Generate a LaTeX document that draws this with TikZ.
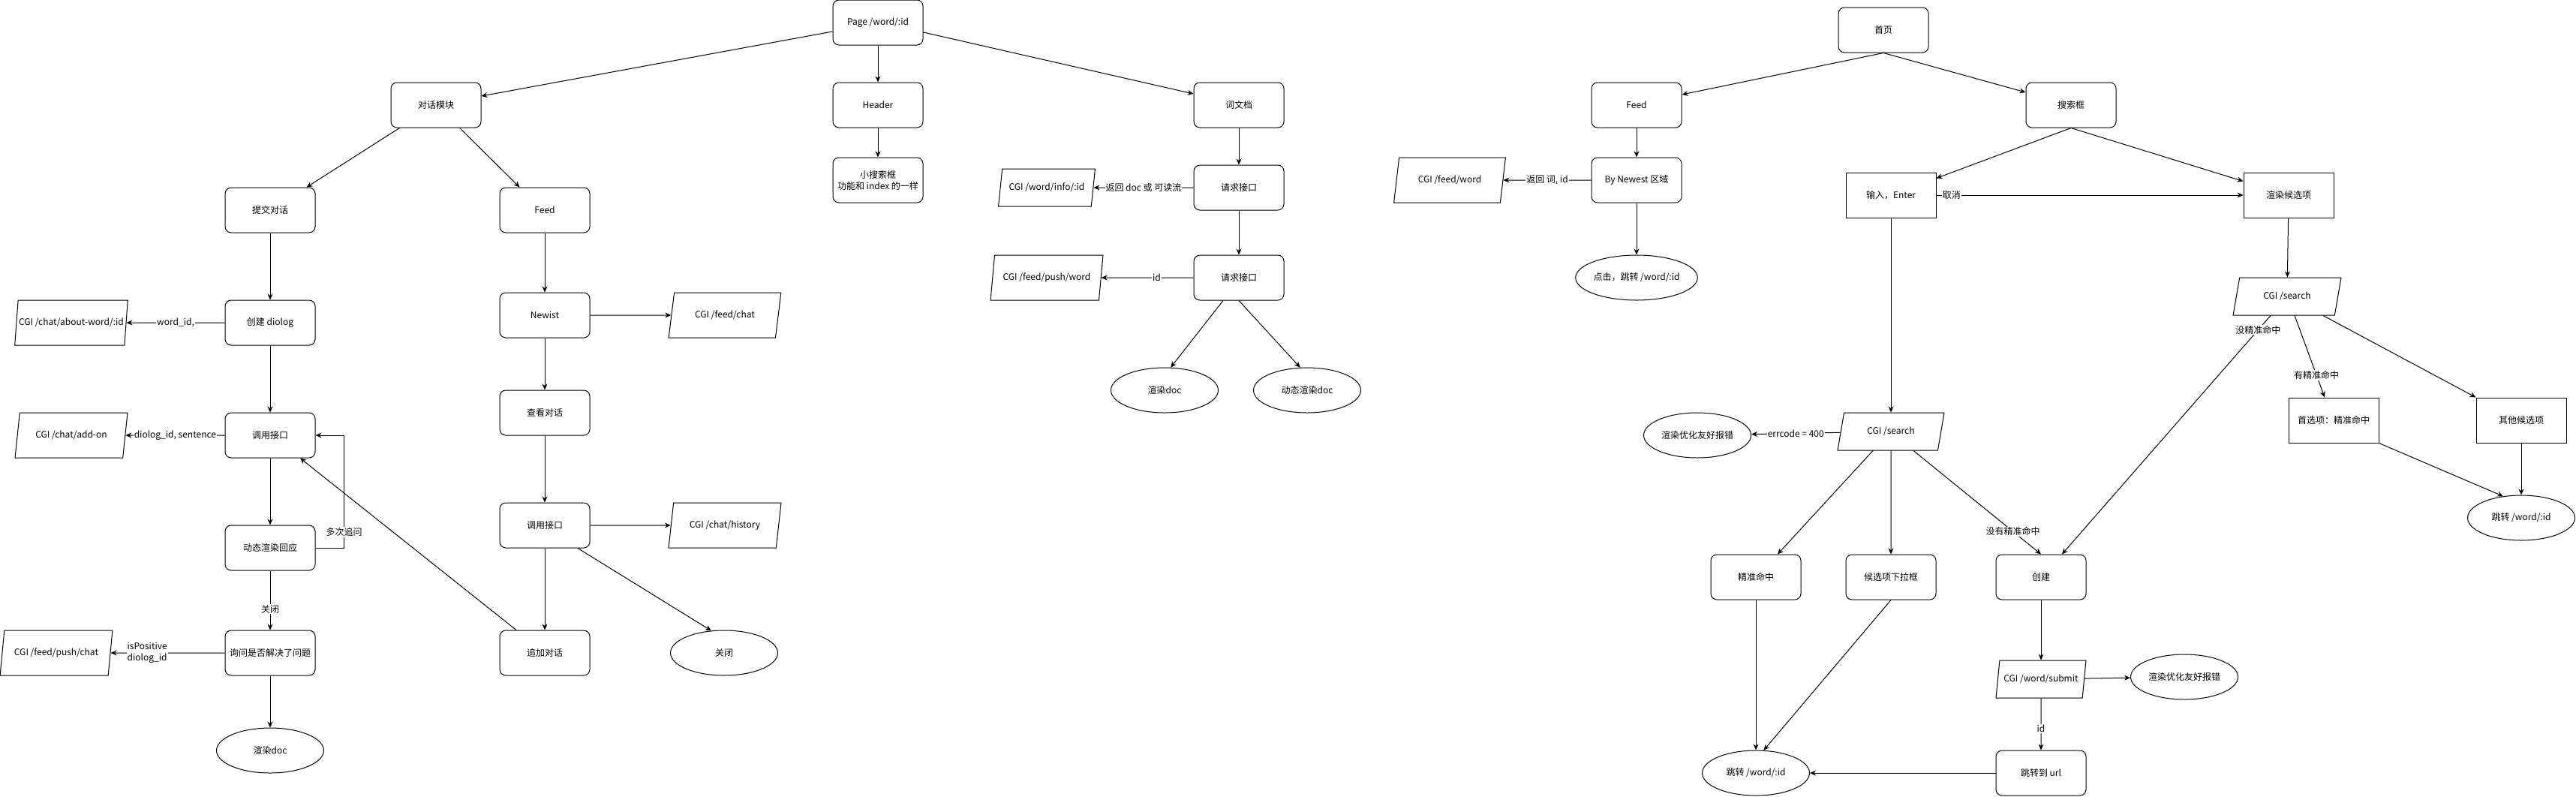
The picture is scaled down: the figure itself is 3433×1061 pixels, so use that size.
\documentclass[tikz,border=0pt]{standalone}
\usepackage{fontspec}
\setmainfont{Noto Sans CJK SC}
\usetikzlibrary{arrows.meta,shapes.geometric}
\begin{document}
\begin{tikzpicture}
	[x=1pt,y=-1pt,line width=1pt,>={Stealth[length=8pt,width=7pt]},
	font=\fontsize{12}{15}\selectfont,
	rbox/.style={rectangle,draw,fill=white,rounded corners=8pt,minimum width=120pt,minimum height=60pt,align=center,inner sep=2pt},
	sbox/.style={rectangle,draw,fill=white,minimum width=120pt,minimum height=60pt,align=center,inner sep=2pt},
	io/.style={trapezium,trapezium left angle=72,trapezium right angle=108,trapezium stretches=true,draw,fill=white,minimum width=150pt,minimum height=60pt,inner sep=1pt},
	oval/.style={ellipse,draw,fill=white,minimum width=143pt,minimum height=60pt,inner sep=0pt},
	lbl/.style={fill=white,inner sep=1pt,align=center}]
	\useasboundingbox (0,0) rectangle (3433,1061);
	% Page /word/:id
	\node[rbox,name=page] at (1170,30) {Page /word/:id};
	\node[rbox,name=chat] at (581,140) {对话模块};
	\node[rbox,name=header] at (1170,140) {Header};
	\node[rbox,name=worddoc] at (1651,140) {词文档};
	\node[rbox,name=minisearch] at (1170,240) {小搜索框\\功能和 index 的一样};
	\node[rbox,name=submitchat] at (360,280) {提交对话};
	\node[rbox,name=feedl] at (726,280) {Feed};
	\node[rbox,name=req1] at (1651,250) {请求接口};
	\node[io,name=cgiinfo,minimum width=129pt,minimum height=50pt] at (1395,250) {CGI /word/info/:id};
	\node[rbox,name=req2] at (1651,370) {请求接口};
	\node[io,name=cgipushword] at (1395,370) {CGI /feed/push/word};
	\node[oval,name=renderdoc] at (1552,520) {渲染doc};
	\node[oval,name=dynrender] at (1742,520) {动态渲染doc};
	\node[rbox,name=createdlg] at (360,430) {创建 diolog};
	\node[io,name=cgiabout] at (95,430) {CGI /chat/about-word/:id};
	\node[rbox,name=newist] at (726,420) {Newist};
	\node[io,name=cgifeedchat] at (966,420) {CGI /feed/chat};
	\node[rbox,name=viewchat] at (726,550) {查看对话};
	\node[rbox,name=callapi] at (360,580) {调用接口};
	\node[io,name=cgiaddon] at (95,580) {CGI /chat/add-on};
	\node[rbox,name=callfeed] at (726,700) {调用接口};
	\node[io,name=cgihistory] at (966,700) {CGI /chat/history};
	\node[rbox,name=dynreply] at (360,730) {动态渲染回应};
	\node[rbox,name=ask] at (360,870) {询问是否解决了问题};
	\node[io,name=cgipushchat] at (75,870) {CGI /feed/push/chat};
	\node[rbox,name=appendchat] at (726,870) {追加对话};
	\node[oval,name=closechat] at (965,870) {关闭};
	\node[oval,name=renderend] at (360,1000) {渲染doc};
	\draw[->] ([yshift=-12pt]page.west)--([yshift=12pt]chat.east);
	\draw[->] (page)--(header);
	\draw[->] (header)--(minisearch);
	\draw[->] ([yshift=-13pt]page.east)--([yshift=15pt]worddoc.west);
	\draw[->] ([xshift=12pt]chat.south west)--([xshift=-12pt]submitchat.north east);
	\draw[->] ([xshift=-29pt]chat.south east)--([xshift=27pt]feedl.north west);
	\draw[->] (submitchat)--(createdlg);
	\draw[->] (createdlg)--node[lbl]{word\_id,}(cgiabout);
	\draw[->] (createdlg)--(callapi);
	\draw[->] (callapi)--node[lbl]{diolog\_id, sentence}(cgiaddon);
	\draw[->] (callapi)--(dynreply);
	\draw[->] (dynreply.east)--++(38,0)|-node[lbl,pos=0.07]{多次追问}(callapi.east);
	\draw[->] (dynreply)--node[lbl,pos=0.65]{关闭}(ask);
	\draw[->] (ask)--node[lbl,pos=0.68]{isPositive\\diolog\_id}(cgipushchat);
	\draw[->] (ask)--(renderend);
	\draw[->] (feedl)--(newist);
	\draw[->] (newist)--(cgifeedchat);
	\draw[->] (newist)--(viewchat);
	\draw[->] (viewchat)--(callfeed);
	\draw[->] (callfeed)--(cgihistory);
	\draw[->] (callfeed)--(appendchat);
	\draw[->] ([xshift=44pt]callfeed.south)--(closechat.120);
	\draw[->] ([xshift=-38pt]appendchat.north)--([xshift=40pt]callapi.south);
	\draw[->] (worddoc)--(req1);
	\draw[->] (req1)--node[lbl]{返回 doc 或 可读流}(cgiinfo);
	\draw[->] (req1)--(req2);
	\draw[->] (req2)--node[lbl,pos=0.4]{id}(cgipushword);
	\draw[->] ([xshift=-21pt]req2.south)--(renderdoc.75);
	\draw[->] (req2.south)--(dynrender.107);
	% 首页
	\node[rbox,name=home] at (2510,40) {首页};
	\node[rbox,name=feedr] at (2181,140) {Feed};
	\node[rbox,name=searchbox] at (2760,140) {搜索框};
	\node[rbox,name=bynewest] at (2181,240) {By Newest 区域};
	\node[io,name=cgifeedword] at (1932,240) {CGI /feed/word};
	\node[oval,name=clickjump] at (2181,370) {点击，跳转 /word/:id};
	\node[sbox,name=enter] at (2520,260) {输入，Enter};
	\node[sbox,name=candidates] at (3050,260) {渲染候选项};
	\node[io,name=cgisearcha,minimum width=145pt,minimum height=50pt] at (3048,395) {CGI /search};
	\node[sbox,name=firstpick] at (3110,560) {首选项：精准命中};
	\node[sbox,name=otherpick] at (3360,560) {其他候选项};
	\node[oval,name=jumpr] at (3360,690) {跳转 /word/:id};
	\node[io,name=cgisearchb,minimum width=143pt,minimum height=50pt] at (2520,575) {CGI /search};
	\node[oval,name=errl] at (2262,580) {渲染优化友好报错};
	\node[rbox,name=exact] at (2340,769) {精准命中};
	\node[rbox,name=dropdown] at (2520,769) {候选项下拉框};
	\node[rbox,name=create] at (2720,769) {创建};
	\node[io,name=submit,minimum width=120pt,minimum height=50pt] at (2720,905) {CGI /word/submit};
	\node[oval,name=errr] at (2911,902) {渲染优化友好报错};
	\node[rbox,name=jumpurl] at (2720,1030) {跳转到 url};
	\node[oval,name=jumpl] at (2340,1030) {跳转 /word/:id};
	\draw[->] (home.south)--([yshift=14pt]feedr.east);
	\draw[->] (home.south)--([yshift=17pt]searchbox.west);
	\draw[->] (feedr)--(bynewest);
	\draw[->] (bynewest)--node[lbl]{返回 词, id}(cgifeedword);
	\draw[->] (bynewest)--(clickjump);
	\draw[->] (searchbox.south)--([yshift=-8pt]enter.north east);
	\draw[->] (searchbox.south)--([yshift=-12pt]candidates.north west);
	\draw[->] (enter)--node[lbl,pos=0.05]{取消}(candidates);
	\draw[->] (enter)--(cgisearchb);
	\draw[->] (candidates)--(cgisearcha);
	\draw[->] ([xshift=-22pt]cgisearcha.south)--node[lbl,pos=0.06]{没精准命中}([xshift=28pt]create.north);
	\draw[->] ([xshift=10pt]cgisearcha.south)--node[lbl,pos=0.73]{有精准命中}([xshift=-12pt]firstpick.north);
	\draw[->] ([xshift=48pt]cgisearcha.south)--(otherpick.north west);
	\draw[->] (firstpick.south east)--(jumpr.130);
	\draw[->] (otherpick)--(jumpr);
	\draw[->] (cgisearchb)--node[lbl]{errcode = 400}(errl);
	\draw[->] ([xshift=-24pt]cgisearchb.south)--([xshift=29pt]exact.north);
	\draw[->] (cgisearchb)--(dropdown);
	\draw[->] ([xshift=30pt]cgisearchb.south)--node[lbl,pos=0.78]{没有精准命中}(create.north);
	\draw[->] (create)--(submit);
	\draw[->] (submit)--(errr);
	\draw[->] (submit)--node[lbl,pos=0.59]{id}(jumpurl);
	\draw[->] (jumpurl)--(jumpl);
	\draw[->] (exact)--(jumpl);
	\draw[->] (dropdown.south)--(jumpl.71);
\end{tikzpicture}
\end{document}
